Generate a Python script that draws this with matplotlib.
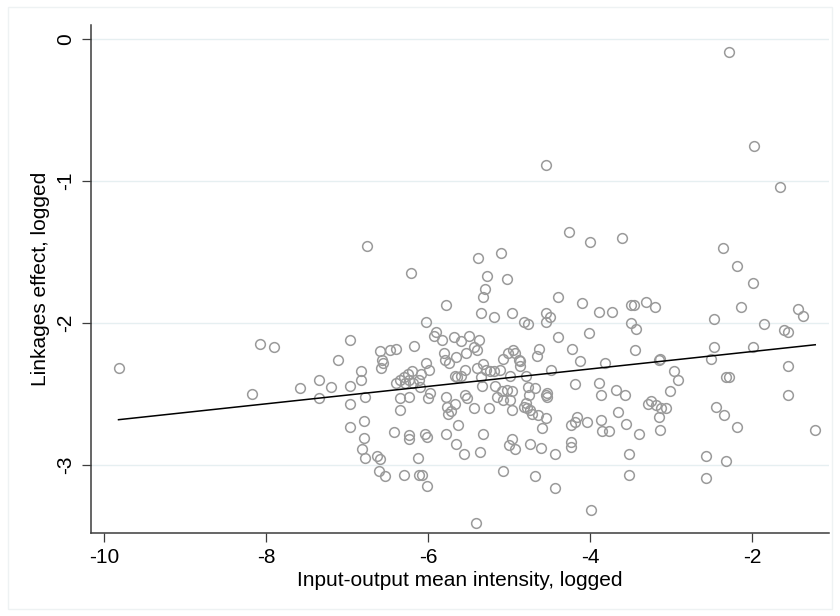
import numpy as np
import matplotlib
matplotlib.use("Agg")
import matplotlib.pyplot as plt
from matplotlib.patches import Rectangle

plt.rcParams['font.family'] = ['Liberation Sans', 'DejaVu Sans']

# input-output mean intensity (logged) and linkages effect (logged)
x_top = [-2.28, -1.97, -1.66, -4.54]
y_top = [-0.09, -0.75, -1.04, -0.89]

x_upper = [-6.75, -6.21, -5.38, -5.10, -5.27, -5.02, -5.30, -5.32, -5.78, -4.26,
           -4.00, -3.60, -4.40, -4.10, -3.50, -3.46, -3.31, -3.20, -2.36, -2.18,
           -1.99, -2.14, -1.43]
y_upper = [-1.46, -1.65, -1.54, -1.51, -1.67, -1.69, -1.76, -1.82, -1.87, -1.36,
           -1.43, -1.40, -1.82, -1.86, -1.87, -1.87, -1.85, -1.89, -1.47, -1.60,
           -1.72, -1.89, -1.90]

x_left = [-9.82, -8.07, -7.90, -8.17, -7.58, -7.34, -7.20, -7.34, -7.11, -6.96,
          -6.96, -6.96, -6.96]
y_left = [-2.32, -2.15, -2.17, -2.50, -2.46, -2.40, -2.45, -2.53, -2.26, -2.12,
          -2.44, -2.57, -2.73]

x_mid = [-5.35, -5.18, -4.96, -4.54, -4.49, -4.54, -4.81, -4.77, -6.02, -4.40,
         -4.22, -5.90, -5.93, -5.83, -5.68, -5.59, -5.49, -5.37, -5.43, -5.40,
         -6.17, -6.59, -6.47, -6.40, -6.57, -6.56, -6.58, -6.83, -6.83, -6.78,
         -6.79, -6.79, -6.82, -6.78, -6.63, -6.59, -6.60, -6.53,
         -6.39, -6.35, -6.30, -6.25, -6.20, -6.23, -6.28, -6.18, -6.11, -6.09,
         -5.99, -6.02, -6.10, -6.23, -6.35, -6.35, -6.00, -5.98,
         -6.42, -6.24, -6.23, -6.04, -6.01, -6.12, -6.30, -6.11, -6.08, -5.78,
         -5.78, -5.67, -5.76, -5.72, -5.75, -5.63, -5.66, -5.56, -5.54, -5.52,
         -5.43, -5.25, -5.32, -5.36, -5.08,
         -5.80, -5.79, -5.74, -5.66, -5.53, -5.54, -5.67, -5.64, -5.59, -5.40,
         -5.32, -5.29, -5.24, -5.19, -5.11, -5.35, -5.33, -5.17, -5.15, -5.09,
         -5.07, -5.03, -4.96, -4.99, -4.96,
         -5.08, -5.01, -4.95, -4.92, -4.88, -4.86, -4.86, -4.99, -4.79, -4.77,
         -4.68, -4.75, -4.79, -4.82, -4.78, -4.74, -4.72, -4.64, -4.96, -5.00,
         -4.93, -4.74, -4.61, -4.68, -4.53, -4.54, -4.53, -4.54, -4.59, -4.48,
         -4.63, -4.66, -4.43, -4.19, -4.23, -4.24, -4.24, -4.16]
y_mid = [-1.93, -1.96, -1.93, -1.93, -1.96, -1.99, -1.99, -2.01, -1.99, -2.10,
         -2.18, -2.06, -2.09, -2.12, -2.10, -2.13, -2.09, -2.12, -2.17, -2.19,
         -2.16, -2.20, -2.19, -2.18, -2.26, -2.28, -2.32, -2.34, -2.40, -2.52,
         -2.69, -2.81, -2.89, -2.95, -2.94, -2.96, -3.04, -3.08,
         -2.42, -2.40, -2.38, -2.36, -2.34, -2.40, -2.42, -2.42, -2.40, -2.36,
         -2.33, -2.28, -2.45, -2.52, -2.53, -2.61, -2.53, -2.49,
         -2.77, -2.79, -2.82, -2.78, -2.80, -2.95, -3.07, -3.07, -3.07, -2.78,
         -2.52, -2.57, -2.59, -2.62, -2.64, -2.72, -2.85, -2.92, -2.51, -2.53,
         -2.60, -2.60, -2.78, -2.91, -3.04,
         -2.21, -2.26, -2.28, -2.24, -2.21, -2.33, -2.37, -2.38, -2.37, -2.32,
         -2.29, -2.33, -2.34, -2.34, -2.33, -2.38, -2.44, -2.44, -2.52, -2.48,
         -2.54, -2.47, -2.48, -2.54, -2.61,
         -2.25, -2.21, -2.19, -2.21, -2.26, -2.30, -2.27, -2.37, -2.37, -2.45,
         -2.46, -2.51, -2.56, -2.59, -2.60, -2.61, -2.64, -2.65, -2.82, -2.86,
         -2.89, -2.85, -2.88, -3.08, -2.49, -2.51, -2.52, -2.67, -2.74, -2.33,
         -2.18, -2.23, -2.92, -2.43, -2.72, -2.84, -2.87, -2.66]

x_right = [-3.89, -3.73, -1.37, -2.47, -1.85, -1.60, -1.55, -3.49, -3.43, -4.01,
           -4.12, -3.81, -3.44, -3.15, -3.14, -2.47, -2.51, -1.99, -1.56, -2.96,
           -2.91, -3.01, -2.32, -2.28, -1.56, -3.89, -3.87, -3.68, -3.57, -3.29,
           -3.25, -3.18, -3.12, -3.06, -3.15, -3.65, -3.56, -3.86, -3.85, -3.77,
           -4.04, -4.18, -3.40, -3.13, -2.44, -2.34, -2.19, -1.22, -3.52, -2.57,
           -2.32, -3.52, -2.57]
y_right = [-1.92, -1.92, -1.95, -1.97, -2.01, -2.05, -2.06, -2.00, -2.04, -2.07,
           -2.27, -2.28, -2.19, -2.26, -2.25, -2.17, -2.25, -2.17, -2.30, -2.34,
           -2.40, -2.48, -2.38, -2.38, -2.51, -2.42, -2.51, -2.47, -2.51, -2.57,
           -2.55, -2.58, -2.60, -2.60, -2.66, -2.63, -2.71, -2.68, -2.76, -2.76,
           -2.70, -2.70, -2.78, -2.75, -2.59, -2.65, -2.73, -2.75, -2.92, -2.94,
           -2.97, -3.07, -3.09]

x_bottom = [-6.01, -5.41, -4.43, -3.99]
y_bottom = [-3.15, -3.41, -3.16, -3.32]

x_ticks = [-10, -8, -6, -4, -2]
y_ticks = [0, -1, -2, -3]


def main():
    x = np.array(x_top + x_upper + x_left + x_mid + x_right + x_bottom)
    y = np.array(y_top + y_upper + y_left + y_mid + y_right + y_bottom)

    # linear fit, like Stata's lfit
    slope, intercept = np.polyfit(x, y, 1)
    xf = np.array([x.min(), x.max()])
    yf = intercept + slope * xf

    fig = plt.figure(figsize=(8.4, 6.16), dpi=100)
    fig.patches.append(Rectangle((0.009, 0.012), 0.982, 0.976, transform=fig.transFigure,
                                 fill=False, edgecolor="#eef2f3", linewidth=1))
    ax = fig.add_axes([0.1083, 0.1347, 0.8786, 0.8247])

    for yt in y_ticks:
        ax.axhline(yt, color="#e6eff1", linewidth=1.0, zorder=0)

    ax.plot(x, y, linestyle="none", marker="o", markersize=7,
            markerfacecolor="none", markeredgecolor="#9a9a9a", markeredgewidth=1.1)
    ax.plot(xf, yf, color="black", linewidth=1.1)

    ax.set_xlim(-10.16, -1.05)
    ax.set_ylim(-3.479, 0.099)
    ax.set_xticks(x_ticks)
    ax.set_yticks(y_ticks)
    ax.set_xticklabels([str(v) for v in x_ticks])
    ax.set_yticklabels([str(v) for v in y_ticks], rotation=90, va="center")

    for s in ["top", "right"]:
        ax.spines[s].set_visible(False)
    for s in ["left", "bottom"]:
        ax.spines[s].set_color("#3c3c3c")
        ax.spines[s].set_linewidth(1.1)
    ax.tick_params(axis="both", length=6.5, width=0.9, color="#3c3c3c",
                   labelsize=15, pad=4)
    ax.tick_params(axis="y", pad=5)

    ax.set_xlabel("Input-output mean intensity, logged", fontsize=15)
    ax.set_ylabel("Linkages effect, logged", fontsize=15)
    ax.xaxis.set_label_coords(0.5, -0.0748)
    ax.yaxis.set_label_coords(-0.069, 0.5)
    ax.xaxis.label.set_va("top")
    ax.yaxis.label.set_va("center")

    fig.savefig("out.png", dpi=100)
    print(slope, intercept)


if __name__ == "__main__":
    main()
